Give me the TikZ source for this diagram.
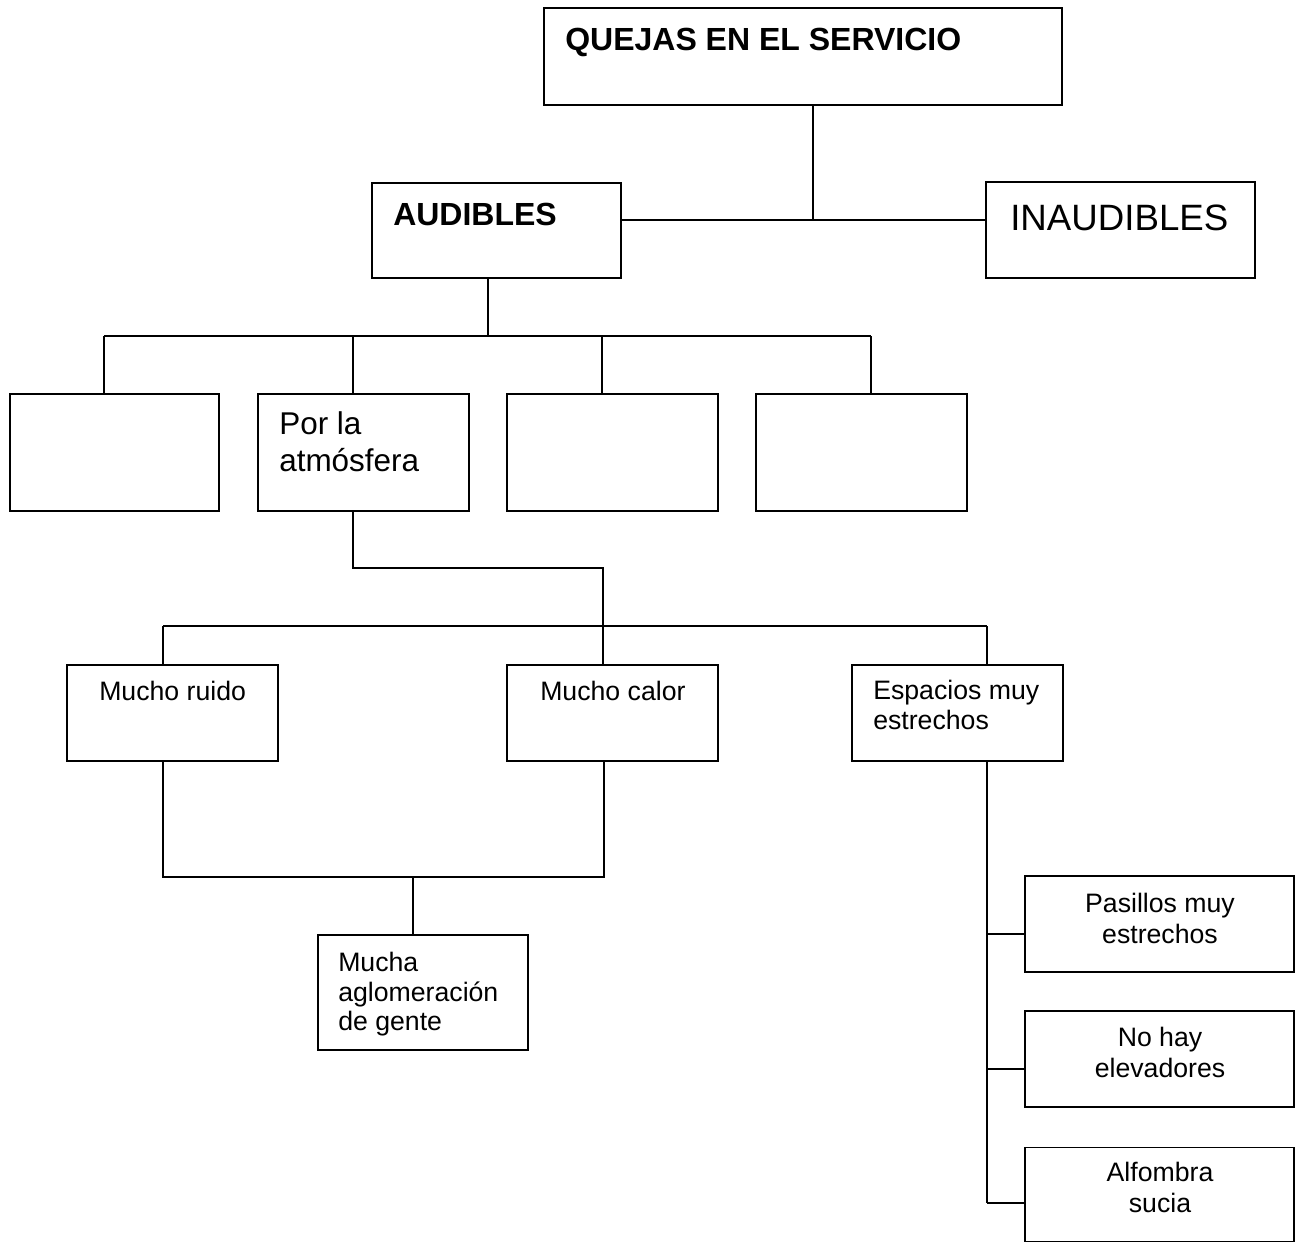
\documentclass[tikz,border=0pt]{standalone}
\usepackage{fontspec}
\setmainfont{Liberation Sans}
\begin{document}
\begin{tikzpicture}[x=0.75pt,y=-0.75pt,
  box/.style={draw,line width=1.4pt,inner sep=0pt,outer sep=0pt,rectangle},
  conn/.style={line width=1.4pt},
  big/.style={inner sep=0pt,font=\fontsize{24}{28}\selectfont\bfseries},
  huge/.style={inner sep=0pt,font=\fontsize{27.5}{32}\selectfont},
  mid/.style={inner sep=0pt,font=\fontsize{23.6}{28}\selectfont},
  small/.style={inner sep=0pt,font=\fontsize{20}{23}\selectfont}]
\useasboundingbox (0,0) rectangle (1295,1243);
% boxes
\node[box,minimum width=518*0.75pt,minimum height=97*0.75pt] (q) at (803,56.5) {};
\node[box,minimum width=249*0.75pt,minimum height=95*0.75pt] (aud) at (496.5,230.5) {};
\node[box,minimum width=269*0.75pt,minimum height=96*0.75pt] (inaud) at (1120.5,230) {};
\node[box,minimum width=209*0.75pt,minimum height=117*0.75pt] (b1) at (114.5,452.5) {};
\node[box,minimum width=211*0.75pt,minimum height=117*0.75pt] (b2) at (363.5,452.5) {};
\node[box,minimum width=211*0.75pt,minimum height=117*0.75pt] (b3) at (612.5,452.5) {};
\node[box,minimum width=211*0.75pt,minimum height=117*0.75pt] (b4) at (861.5,452.5) {};
\node[box,minimum width=211*0.75pt,minimum height=96*0.75pt] (ruido) at (172.5,713) {};
\node[box,minimum width=211*0.75pt,minimum height=96*0.75pt] (calor) at (612.5,713) {};
\node[box,minimum width=211*0.75pt,minimum height=96*0.75pt] (esp) at (957.5,713) {};
\node[box,minimum width=210*0.75pt,minimum height=115*0.75pt] (mucha) at (423,992.5) {};
\node[box,minimum width=269*0.75pt,minimum height=96*0.75pt] (pas) at (1159.5,924) {};
\node[box,minimum width=269*0.75pt,minimum height=96*0.75pt] (nohay) at (1159.5,1059) {};
\node[box,minimum width=269*0.75pt,minimum height=94*0.75pt] (alf) at (1159.5,1194.5) {};
% texts
\node[big,anchor=base west] (tq) at (565,50) {QUEJAS EN EL SERVICIO};
\node[big,anchor=base west] (taud) at (393,225) {AUDIBLES};
\node[huge,anchor=base west] (tinaud) at (1010,230) {INAUDIBLES};
\node[mid,anchor=base west] (tb2a) at (279,434) {Por la};
\node[mid,anchor=base west] (tb2b) at (279,471) {atmósfera};
\node[small,anchor=base west] (truido) at (99,700) {Mucho ruido};
\node[small,anchor=base west] (tcalor) at (540,700) {Mucho calor};
\node[small,anchor=base west] (tespa) at (873,699) {Espacios muy};
\node[small,anchor=base west] (tespb) at (873,729) {estrechos};
\node[small,anchor=base west] (tmua) at (338,971) {Mucha};
\node[small,anchor=base west] (tmub) at (338,1001) {aglomeración};
\node[small,anchor=base west] (tmuc) at (338,1030) {de gente};
\node[small,anchor=base] (tpasa) at (1160,912) {Pasillos muy};
\node[small,anchor=base] (tpasb) at (1160,943) {estrechos};
\node[small,anchor=base] (tnoa) at (1160,1046) {No hay};
\node[small,anchor=base] (tnob) at (1160,1077) {elevadores};
\node[small,anchor=base] (talfa) at (1160,1181) {Alfombra};
\node[small,anchor=base] (talfb) at (1160,1212) {sucia};
% junction coordinates
\coordinate (c1) at (813,220);
\coordinate (c2) at (488,336);
\coordinate (d1) at (104,336);
\coordinate (d2) at (353,336);
\coordinate (d3) at (602,336);
\coordinate (d4) at (871,336);
\coordinate (e1) at (353,568);
\coordinate (e2) at (603,568);
\coordinate (f1) at (163,626);
\coordinate (f3) at (987,626);
\coordinate (g1) at (163,877);
\coordinate (g2) at (604,877);
\coordinate (g3) at (413,877);
\coordinate (k1) at (987,934);
\coordinate (k2) at (987,1069);
\coordinate (k3) at (987,1203);
% connectors
\draw[conn] (q.south -| c1) -- (c1);
\draw[conn] (aud.east |- c1) -- (inaud.west |- c1);
\draw[conn] (aud.south -| c2) -- (c2);
\draw[conn] (d1) -- (d4);
\draw[conn] (d1) -- (b1.north -| d1);
\draw[conn] (d2) -- (b2.north -| d2);
\draw[conn] (d3) -- (b3.north -| d3);
\draw[conn] (d4) -- (b4.north -| d4);
\draw[conn] (b2.south -| e1) -- (e1) -- (e2) -- (calor.north -| e2);
\draw[conn] (f1) -- (f3);
\draw[conn] (f1) -- (ruido.north -| f1);
\draw[conn] (f3) -- (esp.north -| f3);
\draw[conn] (ruido.south -| g1) -- (g1) -- (g2) -- (calor.south -| g2);
\draw[conn] (g3) -- (mucha.north -| g3);
\draw[conn] (esp.south -| k1) -- (k3);
\draw[conn] (k1) -- (pas.west |- k1);
\draw[conn] (k2) -- (nohay.west |- k2);
\draw[conn] (k3) -- (alf.west |- k3);
\end{tikzpicture}
\end{document}
